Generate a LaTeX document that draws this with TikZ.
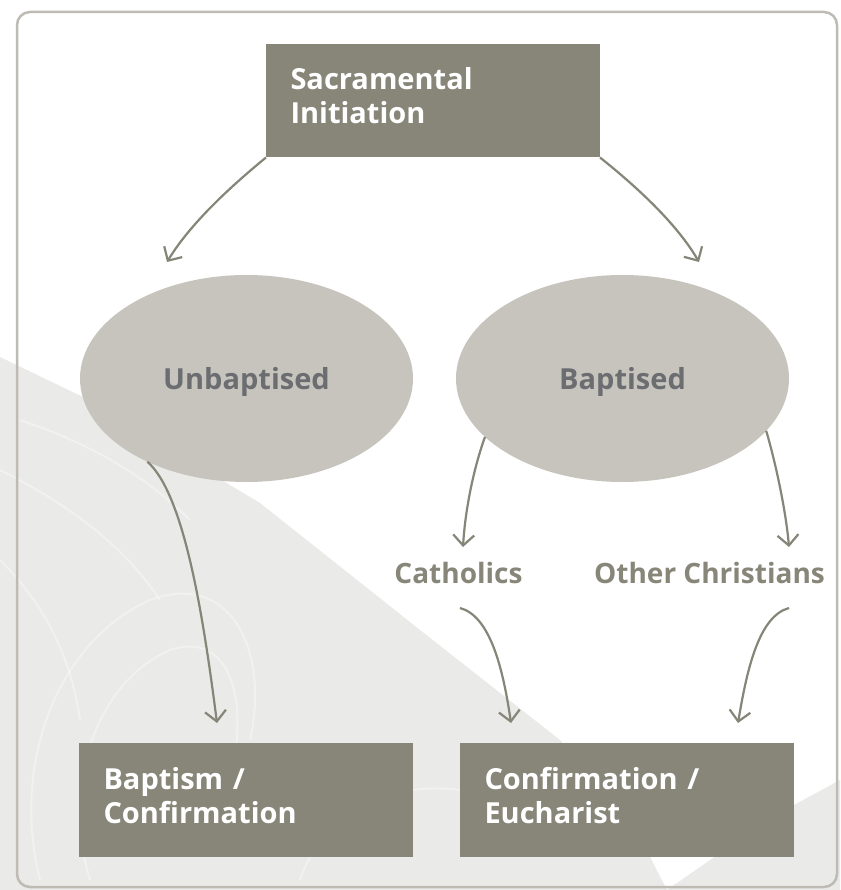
\documentclass[tikz,border=0pt]{standalone}
\usepackage{fontspec}
\setmainfont{Open Sans}
\usetikzlibrary{arrows.meta,shapes.geometric}
\definecolor{boxcol}{HTML}{878679}
\definecolor{ellcol}{HTML}{C6C4BD}
\definecolor{elltxt}{HTML}{6B6D71}
\definecolor{framecol}{HTML}{BDBBB3}
\definecolor{texcol}{HTML}{EAEAE8}
\definecolor{arrcol}{HTML}{858578}
\begin{document}
\begin{tikzpicture}[x=1pt,y=-1pt,
  sbox/.style={rectangle, fill=boxcol, text=white, font=\bfseries\fontsize{29}{34}\selectfont,
    align=left, text width=285pt, inner xsep=24.5pt, inner ysep=0pt,
    text height=46pt, text depth=67.5pt, anchor=north west, outer sep=0pt},
  ell/.style={ellipse, fill=ellcol, text=elltxt, font=\bfseries\fontsize{29}{34}\selectfont,
    minimum width=333pt, minimum height=207pt, inner sep=0pt, outer sep=0pt,
    text height=21pt, text depth=0pt},
  grp/.style={text=boxcol, font=\bfseries\fontsize{28}{34}\selectfont, inner sep=0pt,
    text height=20pt, text depth=0pt},
  arr/.style={draw=arrcol, line width=2.2pt, -{Straight Barb[length=10.5pt,width=21pt]}},
  tex/.style={draw=white, line width=2pt, opacity=0.35},
]
\useasboundingbox (0,0) rectangle (840,890);
\fill[white] (0,0) rectangle (840,890);
% stone texture background
\fill[texcol] (0,357) -- (83,397) -- (260,503) -- (420,630) -- (560,740) -- (650,857) -- (667,890) -- (0,890) -- cycle;
\fill[texcol] (840,780) -- (794,805) -- (710,860) -- (667,890) -- (840,890) -- cycle;
\begin{scope}
\clip (0,357) -- (83,397) -- (260,503) -- (420,630) -- (560,740) -- (650,857) -- (667,890) -- (0,890) -- cycle;
\draw[tex] (40,880) .. controls (10,760) and (60,640) .. (150,600) .. controls (230,570) and (270,650) .. (250,740);
\draw[tex] (90,880) .. controls (60,780) and (100,680) .. (170,650) .. controls (230,630) and (250,700) .. (230,780);
\draw[tex] (0,470) .. controls (60,500) and (120,540) .. (160,600);
\draw[tex] (0,560) .. controls (40,600) and (70,650) .. (80,720);
\draw[tex] (300,880) .. controls (320,820) and (380,780) .. (460,790);
\draw[tex] (20,420) .. controls (80,440) and (140,470) .. (190,520);
\end{scope}
% frame
\draw[framecol, line width=2.5pt, rounded corners=13pt] (17,12) rectangle (837,887);
% nodes
\node[sbox] (top) at (266,44) {Sacramental\\Initiation};
\node[ell] (unb) at (246.5,378.5) {Unbaptised};
\node[ell] (bap) at (622.5,378.5) {Baptised};
\node[grp] (cat) at (458.5,573) {Catholics};
\node[grp] (oth) at (709.5,573) {Other Christians};
\node[sbox] (bc) at (79,743) {Baptism /\\Confirmation};
\node[sbox] (ce) at (460,743) {Confirmation /\\Eucharist};
% free ends of connectors
\coordinate (t1) at (167,262);
\coordinate (t2) at (699,262);
\coordinate (t3) at (217,723);
\coordinate (t4) at (463,547);
\coordinate (t5) at (789,547);
\coordinate (s6) at (460,608);
\coordinate (t6) at (511,723);
\coordinate (s7) at (789,608);
\coordinate (t7) at (738,723);
% connectors
\draw[arr] (top.south west) .. controls (230,187) and (190,224) .. (t1);
\draw[arr] (top.south east) .. controls (637,187) and (677,224) .. (t2);
\draw[arr] (unb.220) .. controls (184,494) and (203,614) .. (t3);
\draw[arr] (bap.203) .. controls (473,470) and (465,512) .. (t4);
\draw[arr] (bap.340) .. controls (776,464) and (786,512) .. (t5);
\draw[arr] (s6) .. controls (490,616) and (503,668) .. (t6);
\draw[arr] (s7) .. controls (759,616) and (747,669) .. (t7);
\end{tikzpicture}
\end{document}
